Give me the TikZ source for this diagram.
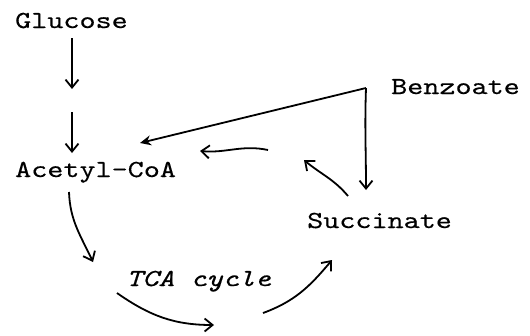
\documentclass[tikz,border=0pt]{standalone}
\usepackage{fontspec}
\setmonofont{lmmono10-regular.otf}[ItalicFont=lmmono10-italic.otf,FakeStretch=1.25,FakeBold=0.4]
\usetikzlibrary{arrows.meta}
\begin{document}
\begin{tikzpicture}[x=1pt,y=-1pt,
  lbl/.style={inner sep=0pt,anchor=base west,font=\ttfamily\fontsize{24.5}{28}\selectfont},
  conn/.style={line width=1.8pt,-{Straight Barb[length=8pt,width=13pt,line width=1.8pt]}},
  connf/.style={line width=1.8pt,-{Stealth[length=11pt,width=10pt]}}]
\useasboundingbox (0,0) rectangle (530,335);
\node[lbl] (gluc) at (15,28) {Glucose};
\node[lbl] (acoa) at (15,177) {Acetyl-CoA};
\node[lbl] (benz) at (391,94) {Benzoate};
\node[lbl] (succ) at (307,228) {Succinate};
\node[lbl] (tca) at (126,286) {\itshape TCA cycle};
% free ends
\coordinate (g1) at (72,38);
\coordinate (g2) at (72,89);
\coordinate (g3) at (72,112);
\coordinate (g4) at (72,153);
\coordinate (bz) at (366,88);
\coordinate (bzA) at (140,143);
\coordinate (bzS) at (366,190);
\coordinate (r1) at (268,150);
\coordinate (r2) at (200,151);
\coordinate (s1) at (348,196);
\coordinate (s2) at (304,160);
\coordinate (a1) at (69,192);
\coordinate (a2) at (93,262);
\coordinate (t1) at (117,293);
\coordinate (t2) at (214,325);
\coordinate (u1) at (263,313);
\coordinate (u2) at (332,260);
\draw[conn] (g1) -- (g2);
\draw[conn] (g3) -- (g4);
\draw[connf] (bz) -- (bzA);
\draw[conn] (bz) to[out=-92,in=90] (bzS);
\draw[conn] (r1) to[out=168,in=-5] (r2);
\draw[conn] (s1) to[out=130,in=-40] (s2);
\draw[conn] (a1) to[out=-88,in=115] (a2);
\draw[conn] (t1) to[out=-35,in=180] (t2);
\draw[conn] (u1) to[out=20,in=-130] (u2);
\end{tikzpicture}
\end{document}
